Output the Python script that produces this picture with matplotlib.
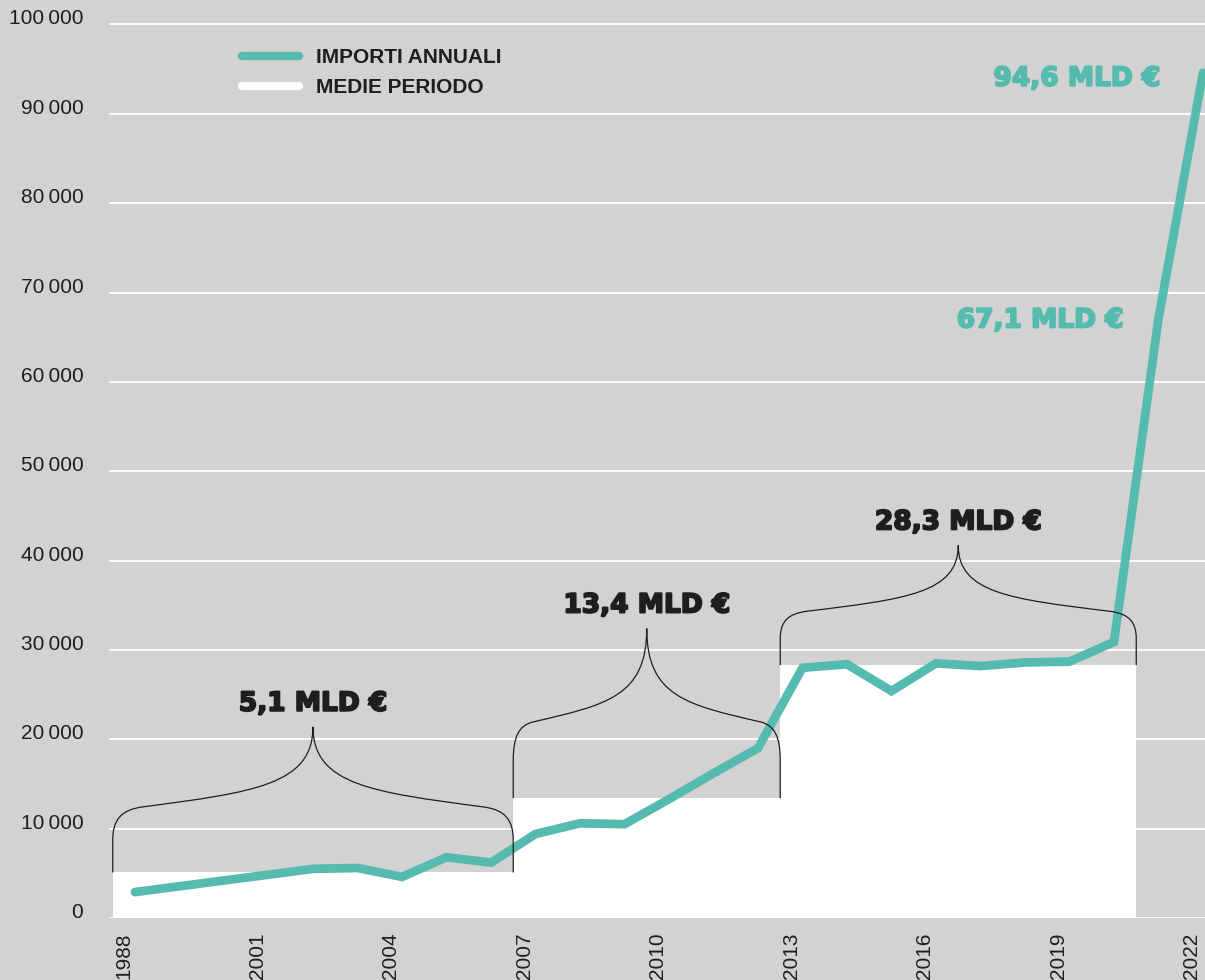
import numpy as np
import matplotlib.pyplot as plt
import matplotlib.patheffects as pe
from matplotlib.lines import Line2D
from matplotlib.path import Path
from matplotlib.patches import PathPatch

plt.rcParams['font.family'] = ['Liberation Sans', 'DejaVu Sans']

# annual amounts (million €)
years = np.arange(1998, 2023)
importi = [2900, 3550, 4200, 4850, 5500, 5600, 4600, 6800, 6200,
           9400, 10600, 10500, 13300, 16200, 19000,
           28000, 28400, 25400, 28500, 28200, 28600, 28700, 30900,
           67100, 94600]

# period averages
period_first = [1998, 2007, 2013]
period_last = [2006, 2012, 2020]
period_avg = [5100, 13400, 28300]
period_labels = ['5,1 MLD €', '13,4 MLD €', '28,3 MLD €']

tick_years = [1998, 2001, 2004, 2007, 2010, 2013, 2016, 2019, 2022]
tick_labels = ['1988', '2001', '2004', '2007', '2010', '2013', '2016', '2019', '2022']
y_ticks = list(range(0, 100001, 10000))

teal = '#55bbaf'
bg = '#d2d2d2'
ink = '#1e1e1e'

fig = plt.figure(figsize=(12.05, 9.8), dpi=100, facecolor=bg)
ax = fig.add_axes([109 / 1205, 62 / 980, 1 - 109 / 1205, 918 / 980])
ax.set_facecolor(bg)
ax.set_xlim(1997.416, 2022.045)
ax.set_ylim(0, 102740)

ax.grid(axis='y', color='white', lw=1.3, zorder=0)
ax.set_axisbelow(True)

# white bars for the period averages
starts = np.array(period_first) - 0.5
widths = np.array(period_last) - np.array(period_first) + 1
ax.bar(starts, period_avg, width=widths, align='edge', color='white', zorder=1)

ax.plot(years, importi, color=teal, lw=6.3, solid_capstyle='round',
        solid_joinstyle='miter', zorder=3)


def brace(x0, x1, y0, y1):
    # left half as fractions of half width / height, mirrored for right half
    pts = [(0, 0), (0, 0.22),
           (0, 0.36), (0.04, 0.43), (0.15, 0.45),
           (0.7, 0.55), (1.0, 0.6), (1.0, 1.0)]
    codes_half = [Path.MOVETO, Path.LINETO] + [Path.CURVE4] * 6
    w = (x1 - x0) / 2
    h = y1 - y0
    left = [(x0 + fx * w, y0 + fy * h) for fx, fy in pts]
    right = [(x1 - fx * w, y0 + fy * h) for fx, fy in pts[::-1]][1:]
    codes = codes_half + [Path.CURVE4] * 6 + [Path.LINETO]
    return PathPatch(Path(left + right, codes), fill=False, ec=ink, lw=0.9, zorder=4)


def big_text(txt, xy, offset, color, ha):
    ax.annotate(txt, xy=xy, xytext=offset, textcoords='offset pixels',
                ha=ha, va='center', fontsize=19, fontweight='bold',
                family='DejaVu Sans', color=color,
                path_effects=[pe.withStroke(linewidth=1.4, foreground=color)])


brace_rise = [16300, 19000, 13400]
for s, w, avg, rise, lab in zip(starts, widths, period_avg, brace_rise, period_labels):
    ax.add_patch(brace(s, s + w, avg, avg + rise))
    big_text(lab, (s + w / 2, avg + rise), (0, 23), ink, 'center')

big_text('94,6 MLD €', (years[-1], importi[-1]), (-43, -6), teal, 'right')
big_text('67,1 MLD €', (years[-2], importi[-2]), (-35, -2), teal, 'right')

ax.set_xticks(np.array(tick_years) - 0.25, tick_labels, rotation=90,
              fontsize=15, color=ink)
ax.set_yticks(y_ticks, [f'{v:,}'.replace(',', '\u2009') for v in y_ticks],
              fontsize=15, color=ink)
for lbl in ax.get_yticklabels():
    lbl.set_verticalalignment('baseline')
ax.tick_params(axis='x', length=0, pad=10.3)
ax.tick_params(axis='y', length=0, pad=18.5)
for sp in ax.spines.values():
    sp.set_visible(False)

handles = [Line2D([], [], color=teal, lw=6, solid_capstyle='round'),
           Line2D([], [], color='white', lw=6, solid_capstyle='round')]
leg = ax.legend(handles, ['IMPORTI ANNUALI', 'MEDIE PERIODO'], loc='upper left',
                bbox_to_anchor=(0.1212, 0.9477), frameon=False, borderpad=0,
                borderaxespad=0, handlelength=2.74, handletextpad=0.82,
                labelspacing=0.53, prop={'weight': 'bold', 'size': 15})
for t in leg.get_texts():
    t.set_color(ink)

fig.savefig('out.png', dpi=100, facecolor=bg)
